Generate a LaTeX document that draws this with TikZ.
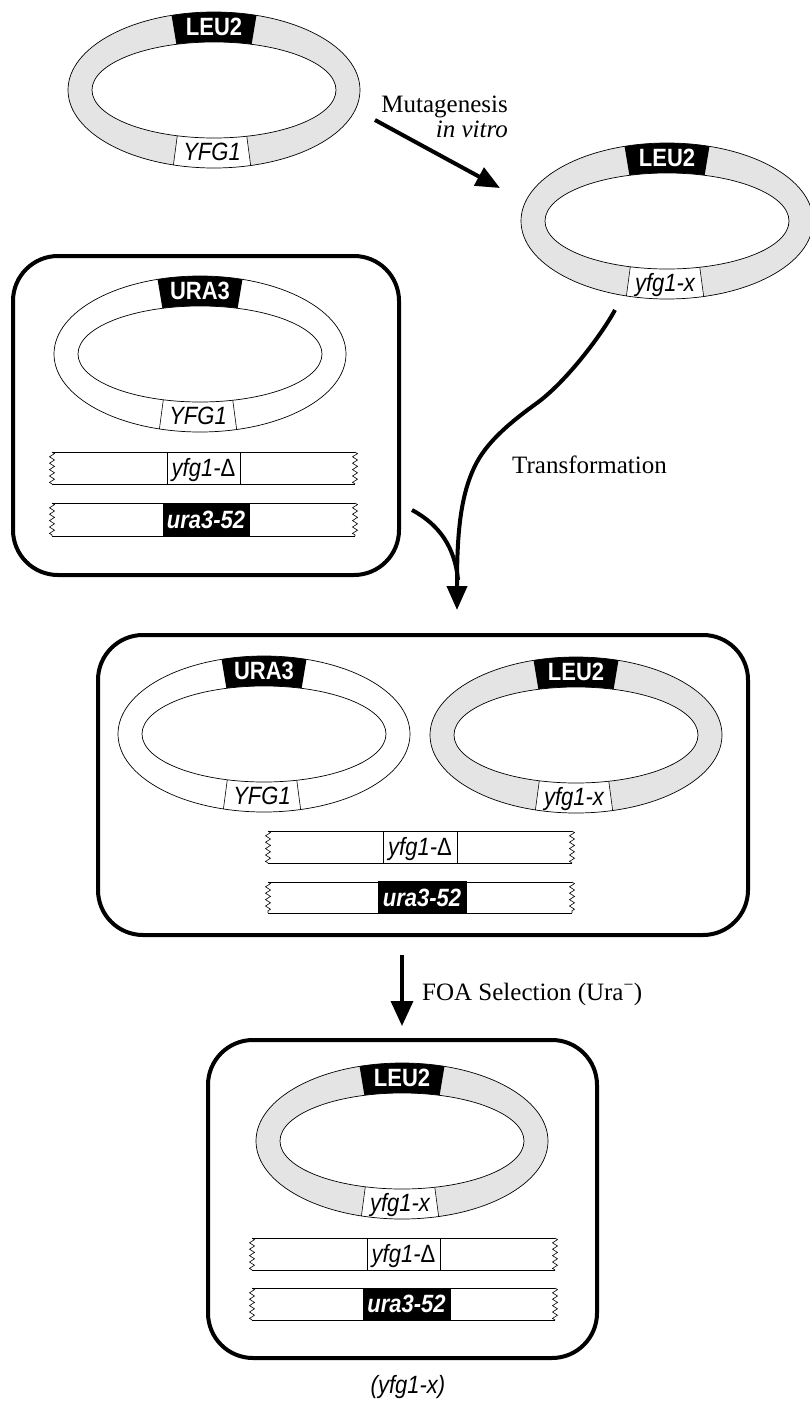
\documentclass[tikz,border=0pt]{standalone}
\usepackage{fontspec}
\setmainfont{Liberation Serif}
\newfontfamily\genefont[FakeStretch=0.88]{Liberation Sans}
\usetikzlibrary{arrows.meta,decorations.pathmorphing}
\definecolor{plgray}{RGB}{228,228,228}
\tikzset{
  toplab/.style={font=\genefont\bfseries\fontsize{25}{27}\selectfont, text=white, inner sep=0pt, anchor=base},
  botlab/.style={font=\genefont\itshape\fontsize{25}{27}\selectfont, inner sep=0pt, anchor=base},
  ann/.style={font=\fontsize{25}{28}\selectfont, inner sep=0pt},
  cell/.style={line width=4pt, rounded corners=45pt},
  bigarrow/.style={line width=4pt, -{Triangle[length=24pt,width=20pt]}},
  zz/.style={decorate, decoration={zigzag, segment length=6.4pt, amplitude=2.5pt}, line width=0.6pt},
  barline/.style={line width=0.9pt},
  genebox/.style={draw, line width=0.6pt, minimum height=32pt, inner sep=0pt, text height=17pt, text depth=0pt,
     font=\genefont\itshape\fontsize{25}{27}\selectfont},
}
\newcommand\plasmid[6]{%
  \fill[#4] (#2,#3) ellipse [x radius=146pt, y radius=78pt];
  \begin{scope}
    \clip (#2,#3) ellipse [x radius=146pt, y radius=78pt];
    \fill[black] ({#2-45},{#3-90}) -- ({#2+45},{#3-90}) -- ({#2+36},{#3-36}) -- ({#2-36},{#3-36}) -- cycle;
    \filldraw[fill=white, draw=black, line width=0.6pt] ({#2-35.4},{#3+36}) -- ({#2+31.4},{#3+36}) -- ({#2+38.6},{#3+90}) -- ({#2-42.6},{#3+90}) -- cycle;
  \end{scope}
  \draw[line width=0.7pt] (#2,#3) ellipse [x radius=146pt, y radius=78pt];
  \filldraw[fill=white, line width=0.7pt] (#2,#3) ellipse [x radius=122pt, y radius=48pt];
  \node[toplab] (#1top) at (#2,{#3-55}) {#5};
  \node[botlab] (#1bot) at ({#2-2},{#3+70}) {#6};
}
\newcommand\chrom[4]{%
  \fill[white] (#1,#3) rectangle (#2,#4);
  \draw[barline] (#1,#3) -- (#2,#3);
  \draw[barline] (#1,#4) -- (#2,#4);
  \draw[zz] (#1,#3) -- (#1,#4);
  \draw[zz] (#2,#3) -- (#2,#4);
}
\begin{document}
\begin{tikzpicture}[x=1pt,y=-1pt]
\useasboundingbox (0,0) rectangle (810,1408);

% top plasmids
\plasmid{pA}{214}{90}{plgray}{LEU2}{YFG1}
\plasmid{pB}{667}{221}{plgray}{LEU2}{yfg1-x}

% Mutagenesis arrow
\coordinate (m1) at (375,120);
\coordinate (m2) at (500,188);
\draw[bigarrow] (m1) -- (m2);
\node[ann, anchor=base east] (mut) at (508,112) {Mutagenesis};
\node[ann, anchor=base east] (vit) at (508,137) {\itshape in vitro};

% cell 1
\draw[cell] (13,256) rectangle (399,575);
\plasmid{pC}{200}{354}{white}{URA3}{YFG1}
\chrom{52}{355}{452}{484}
\node[genebox, fill=white, minimum width=73pt] (c1d) at (203.5,468) {yfg1-{\upshape Δ}};
\chrom{52}{355}{503}{536}
\node[genebox, fill=black, text=white, minimum width=86pt, font=\genefont\bfseries\itshape\fontsize{25}{27}\selectfont] (c1u) at (206,519.5) {ura3-52};

% transformation arrows
\coordinate (t1) at (615,310);
\coordinate (ta) at (537,403);
\coordinate (tb) at (477,462);
\coordinate (t2) at (457,610);
\coordinate (s1) at (412,510);
\coordinate (s2) at (458,580);
\draw[line width=4pt] (s1) .. controls (440,525) and (455,548) .. (s2);
\draw[bigarrow] (t1) .. controls (602,334) and (567,381) .. (ta)
   .. controls (512,421) and (489,440) .. (tb)
   .. controls (459,495) and (457,540) .. (t2);
\node[ann, anchor=base west] (trans) at (512,473) {Transformation};

% cell 2
\draw[cell] (98,635) rectangle (748,935);
\plasmid{pD}{264}{734}{white}{URA3}{YFG1}
\plasmid{pE}{576}{735}{plgray}{LEU2}{yfg1-x}
\chrom{268}{572}{831}{863}
\node[genebox, fill=white, minimum width=74pt] (c2d) at (420,847) {yfg1-{\upshape Δ}};
\chrom{268}{572}{882}{913}
\node[genebox, fill=black, text=white, minimum width=88pt, font=\genefont\bfseries\itshape\fontsize{25}{27}\selectfont] (c2u) at (422,897.5) {ura3-52};

% FOA arrow
\coordinate (f1) at (402,955);
\coordinate (f2) at (402,1026);
\draw[line width=3.5pt, -{Triangle[length=25pt,width=22pt]}] (f1) -- (f2);
\node[ann, anchor=base west] (foa) at (422,1000) {FOA Selection (Ura\textsuperscript{−})};

% cell 3
\draw[cell] (208,1040) rectangle (597,1358);
\plasmid{pF}{402}{1141}{plgray}{LEU2}{yfg1-x}
\chrom{252}{555}{1238}{1270}
\node[genebox, fill=white, minimum width=73pt] (c3d) at (403.5,1254) {yfg1-{\upshape Δ}};
\chrom{252}{555}{1288}{1320}
\node[genebox, fill=black, text=white, minimum width=87pt, font=\genefont\bfseries\itshape\fontsize{25}{27}\selectfont] (c3u) at (406.5,1304) {ura3-52};

\node[botlab, anchor=center] (res) at (408,1387) {(yfg1-x)};
\end{tikzpicture}
\end{document}
